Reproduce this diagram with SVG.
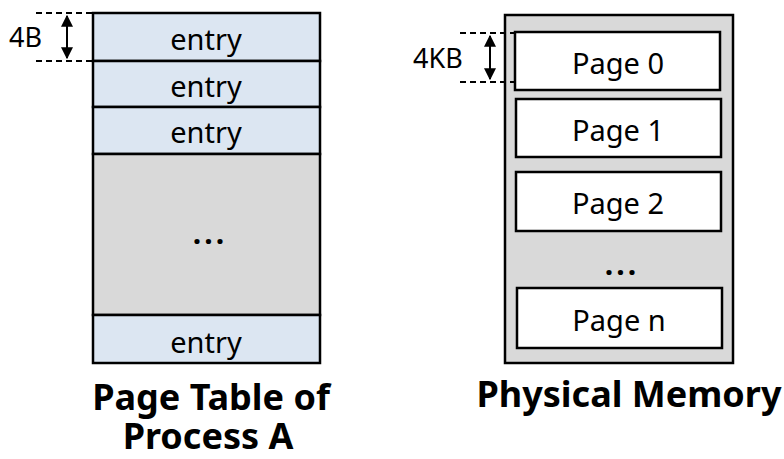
<svg xmlns="http://www.w3.org/2000/svg" width="784" height="459" viewBox="0 0 784 459">
  <style>
    .entry { fill: #dce6f2; stroke: #000; stroke-width: 2.5; }
    .gap { fill: #d9d9d9; stroke: #000; stroke-width: 2.5; }
    .mem { fill: #d9d9d9; stroke: #000; stroke-width: 2.5; }
    .page { fill: #fff; stroke: #000; stroke-width: 2.5; }
    .lbl { font-family: "Noto Sans", "Open Sans", sans-serif; font-size: 29px; fill: #000; text-anchor: middle; }
    .dots { font-family: "Noto Sans", "Open Sans", sans-serif; font-size: 30px; fill: #000; text-anchor: middle; font-weight: bold; letter-spacing: 3px; }
    .dim { font-family: "Noto Sans", "Open Sans", sans-serif; font-size: 27px; fill: #000; }
    .title { font-family: "Noto Sans", "Open Sans", sans-serif; font-size: 36px; font-weight: bold; fill: #000; text-anchor: middle; }
    .dash { stroke: #000; stroke-width: 2; stroke-dasharray: 6 4; fill: none; }
    .arrow { stroke: #000; stroke-width: 2; fill: none; marker-start: url(#head); marker-end: url(#head); }
  </style>
  <defs>
    <marker id="head" viewBox="0 0 10 10" refX="9" refY="5" markerWidth="6" markerHeight="6" orient="auto-start-reverse" markerUnits="strokeWidth">
      <path d="M0,0 L10,5 L0,10 z" fill="#000"/>
    </marker>
  </defs>

  <!-- Page table of process A -->
  <g id="page-table">
    <g id="entry-0">
      <rect class="entry" x="93" y="13" width="227" height="48"/>
      <text class="lbl" x="206" y="50">entry</text>
    </g>
    <g id="entry-1">
      <rect class="entry" x="93" y="61" width="227" height="46"/>
      <text class="lbl" x="206" y="97">entry</text>
    </g>
    <g id="entry-2">
      <rect class="entry" x="93" y="107" width="227" height="47"/>
      <text class="lbl" x="206" y="143">entry</text>
    </g>
    <g id="entry-gap">
      <rect class="gap" x="93" y="154" width="227" height="161"/>
      <text class="dots" x="210" y="244">...</text>
    </g>
    <g id="entry-last">
      <rect class="entry" x="93" y="315" width="227" height="48"/>
      <text class="lbl" x="206" y="353">entry</text>
    </g>
    <text class="title" x="211" y="410">Page Table of</text>
    <text class="title" x="208" y="449">Process A</text>
  </g>

  <!-- Physical memory -->
  <g id="physical-memory">
    <rect class="mem" x="505" y="15" width="228" height="348"/>
    <g id="page-0">
      <rect class="page" x="515" y="32" width="205" height="58"/>
      <text class="lbl" x="618" y="74">Page 0</text>
    </g>
    <g id="page-1">
      <rect class="page" x="516" y="99" width="205" height="58"/>
      <text class="lbl" x="618" y="141">Page 1</text>
    </g>
    <g id="page-2">
      <rect class="page" x="516" y="172" width="205" height="59"/>
      <text class="lbl" x="618" y="214">Page 2</text>
    </g>
    <text class="dots" x="622" y="275">...</text>
    <g id="page-n">
      <rect class="page" x="517" y="288" width="205" height="60"/>
      <text class="lbl" x="619" y="331">Page n</text>
    </g>
    <text class="title" x="629" y="407">Physical Memory</text>
  </g>

  <!-- Size markers -->
  <g id="connectors">
    <line class="dash" x1="36" y1="13" x2="93" y2="13"/>
    <line class="dash" x1="36" y1="61" x2="93" y2="61"/>
    <line class="arrow" x1="67" y1="16" x2="67" y2="58"/>
    <line class="dash" x1="460" y1="33" x2="516" y2="33"/>
    <line class="dash" x1="460" y1="82" x2="516" y2="82"/>
    <line class="arrow" x1="490" y1="36" x2="490" y2="79"/>
  </g>
  <text class="dim" x="9" y="47">4B</text>
  <text class="dim" x="413" y="68">4KB</text>
</svg>
